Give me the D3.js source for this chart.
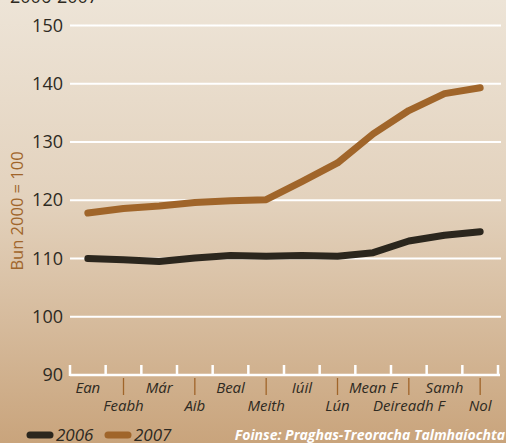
<!DOCTYPE html>
<html>
<head>
<meta charset="utf-8">
<script src="https://cdn.jsdelivr.net/npm/d3@7"></script>
<style>
  body { margin: 0; }
  svg { display: block; font-family: "Open Sans", sans-serif; }
</style>
</head>
<body>
<div id="chart"></div>
<script>
const months = ["Ean", "Feabh", "Már", "Aib", "Beal", "Meith", "Iúil", "Lún", "Mean F", "Deireadh F", "Samh", "Nol"];
const values2006 = [110.0, 109.8, 109.5, 110.1, 110.5, 110.4, 110.5, 110.4, 111.0, 113.0, 114.0, 114.6];
const values2007 = [117.8, 118.6, 119.0, 119.6, 119.9, 120.1, 123.2, 126.4, 131.4, 135.4, 138.3, 139.3];
const yTicks = [90, 100, 110, 120, 130, 140, 150];
const seriesNames = ["2006", "2007"];
const colors = { "2006": "#2b261d", "2007": "#a0652a" };

const width = 506, height = 443;

var svg = d3.select("#chart").append("svg")
    .attr("width", width)
    .attr("height", height);

// background gradient
var grad = svg.append("defs").append("linearGradient")
    .attr("id", "bg").attr("x1", 0).attr("y1", 0).attr("x2", 0).attr("y2", 1);
grad.append("stop").attr("offset", "0%").attr("stop-color", "#ede4d7");
grad.append("stop").attr("offset", "45%").attr("stop-color", "#e3d2bd");
grad.append("stop").attr("offset", "100%").attr("stop-color", "#c9a47c");
svg.append("rect").attr("width", width).attr("height", height).attr("fill", "url(#bg)");

var xScale = d3.scaleBand()
    .domain(months)
    .range([70, 498]);

var yScale = d3.scaleLinear()
    .domain([90, 150])
    .range([375, 25.5]);

// gridlines
svg.append("g").selectAll("line")
    .data(yTicks.filter(d => d > 90))
    .join("line")
    .attr("x1", 70).attr("x2", 501)
    .attr("y1", d => yScale(d)).attr("y2", d => yScale(d))
    .attr("stroke", "#ffffff").attr("stroke-width", 2);

// y tick labels
svg.append("g").selectAll("text")
    .data(yTicks)
    .join("text")
    .attr("x", 63)
    .attr("y", d => yScale(d) + 6)
    .attr("text-anchor", "end")
    .attr("font-size", 18)
    .attr("fill", "#2e2a22")
    .text(d => d);

// x axis baseline + white ticks
var xAxis = d3.axisBottom(xScale).tickSize(0).tickFormat("");
var axisG = svg.append("g").attr("transform", `translate(0,${yScale(90)})`).call(xAxis);
axisG.select(".domain").remove();
axisG.append("line")
    .attr("x1", 70).attr("x2", 500)
    .attr("stroke", "#fff").attr("stroke-width", 2.5);
var bounds = months.map(m => xScale(m)).concat([xScale.range()[1]]);
axisG.selectAll(".wt")
    .data(bounds)
    .join("line").attr("class", "wt")
    .attr("x1", d => d).attr("x2", d => d)
    .attr("y1", 1).attr("y2", -10)
    .attr("stroke", "#fff").attr("stroke-width", 2.5);

// month labels on two rows with leader ticks
var center = m => xScale(m) + xScale.bandwidth() / 2;
svg.append("g").selectAll("line")
    .data(months.filter((m, i) => i % 2 === 1))
    .join("line")
    .attr("x1", center).attr("x2", center)
    .attr("y1", 378).attr("y2", 395)
    .attr("stroke", "#a0652a").attr("stroke-width", 1.3);
svg.append("g").selectAll("text")
    .data(months)
    .join("text")
    .attr("x", center)
    .attr("y", (d, i) => i % 2 === 0 ? 393 : 411)
    .attr("text-anchor", "middle")
    .attr("font-size", 15)
    .attr("font-style", "italic")
    .attr("fill", "#2e2a22")
    .text(d => d);

// lines
var line = d3.line()
    .x((d, i) => center(months[i]))
    .y(d => yScale(d));

[values2006, values2007].forEach((vals, k) => {
    svg.append("path")
        .datum(vals)
        .attr("d", line)
        .attr("fill", "none")
        .attr("stroke", colors[seriesNames[k]])
        .attr("stroke-width", 7)
        .attr("stroke-linecap", "round")
        .attr("stroke-linejoin", "round");
});

// y axis title
svg.append("text")
    .attr("transform", "translate(23,211) rotate(-90)")
    .attr("text-anchor", "middle")
    .attr("font-size", 16.5)
    .attr("fill", "#a0652a")
    .text("Bun 2000 = 100");

// top title (mostly cut off)
svg.append("text")
    .attr("x", 10).attr("y", 3)
    .attr("font-size", 18)
    .attr("fill", "#2e2a22")
    .text("2006-2007");

// legend
var legend = svg.append("g");
seriesNames.forEach((s, i) => {
    var x0 = 30 + i * 78;
    legend.append("line")
        .attr("x1", x0).attr("x2", x0 + 20)
        .attr("y1", 435).attr("y2", 435)
        .attr("stroke", colors[s]).attr("stroke-width", 7)
        .attr("stroke-linecap", "round");
    legend.append("text")
        .attr("x", x0 + 26).attr("y", 441)
        .attr("font-size", 17)
        .attr("font-style", "italic")
        .attr("fill", "#2e2a22")
        .text(s);
});

// source
svg.append("text")
    .attr("x", 505).attr("y", 440)
    .attr("text-anchor", "end")
    .attr("font-size", 14)
    .attr("font-style", "italic")
    .attr("font-weight", "bold")
    .attr("fill", "#ffffff")
    .text("Foinse: Praghas-Treoracha Talmhaíochta");
</script>
</body>
</html>
